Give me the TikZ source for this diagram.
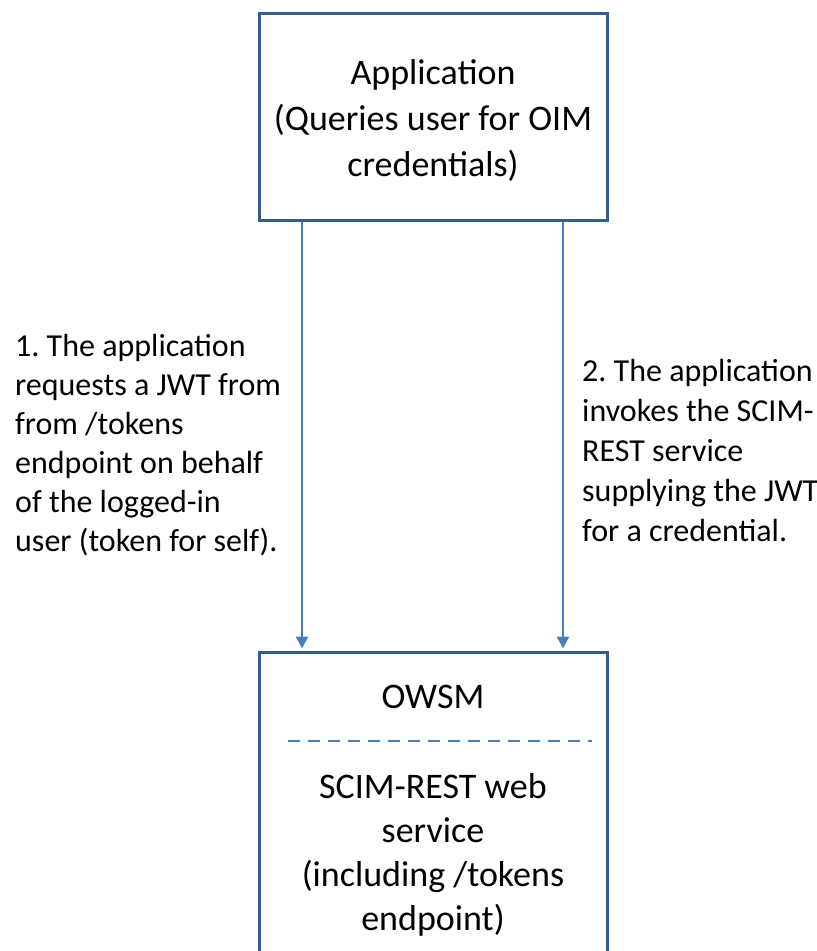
\documentclass[tikz,border=0pt]{standalone}
\usepackage{fontspec}
\setmainfont{Carlito}
\usetikzlibrary{arrows.meta,positioning}
\definecolor{boxline}{HTML}{385D8A}
\definecolor{arrowblue}{HTML}{4A7EBB}
\frenchspacing

\begin{document}
\begin{tikzpicture}[
    x=1pt, y=1pt,
    node distance=429pt,
    box/.style={rectangle, draw=boxline, line width=3pt, minimum width=348pt},
    boxtext/.style={inner sep=0pt, align=center, font=\fontsize{36}{44}\selectfont},
    note/.style={inner sep=0pt, align=left, anchor=north west, font=\fontsize{32}{39}\selectfont},
    arrow/.style={-{Triangle[length=12pt,width=12pt]}, draw=arrowblue, fill=arrowblue, line width=2.5pt, shorten >=2pt},
    divider/.style={draw=arrowblue, line width=2pt, dash pattern=on 12pt off 8pt}
]
\useasboundingbox (0,0) rectangle (817,-951);
\node[box, minimum height=207pt] (app) at (433,-116.5) {};
\node[boxtext, font=\fontsize{36}{46}\selectfont] (apptext) at ([yshift=-4pt]app.center) {Application\\(Queries user for OIM\\credentials)};
\node[box, minimum height=330pt, below=of app] (owsm) {};
\node[boxtext, anchor=base] (owsmname) at ([yshift=-58pt]owsm.north) {OWSM};
\node[boxtext, anchor=north] (scim) at ([yshift=-123pt]owsm.north) {SCIM-REST web\\service\\(including /tokens\\endpoint)};
\node[note] (step1) at (15,-334) {1. The application\\requests a JWT from\\from /tokens\\endpoint on behalf\\of the logged-in\\user (token for self).};
\node[note, font=\fontsize{32}{40}\selectfont] (step2) at (582,-359) {2. The application\\invokes the SCIM-\\REST service\\supplying the JWT\\for a credential.};

\draw[divider] ([xshift=-145pt,yshift=-90pt]owsm.north) -- ([xshift=159pt,yshift=-90pt]owsm.north);
\draw[arrow] ([xshift=-131pt]app.south) -- ([xshift=-131pt]owsm.north);
\draw[arrow] ([xshift=130pt]app.south) -- ([xshift=130pt]owsm.north);
\end{tikzpicture}
\end{document}
